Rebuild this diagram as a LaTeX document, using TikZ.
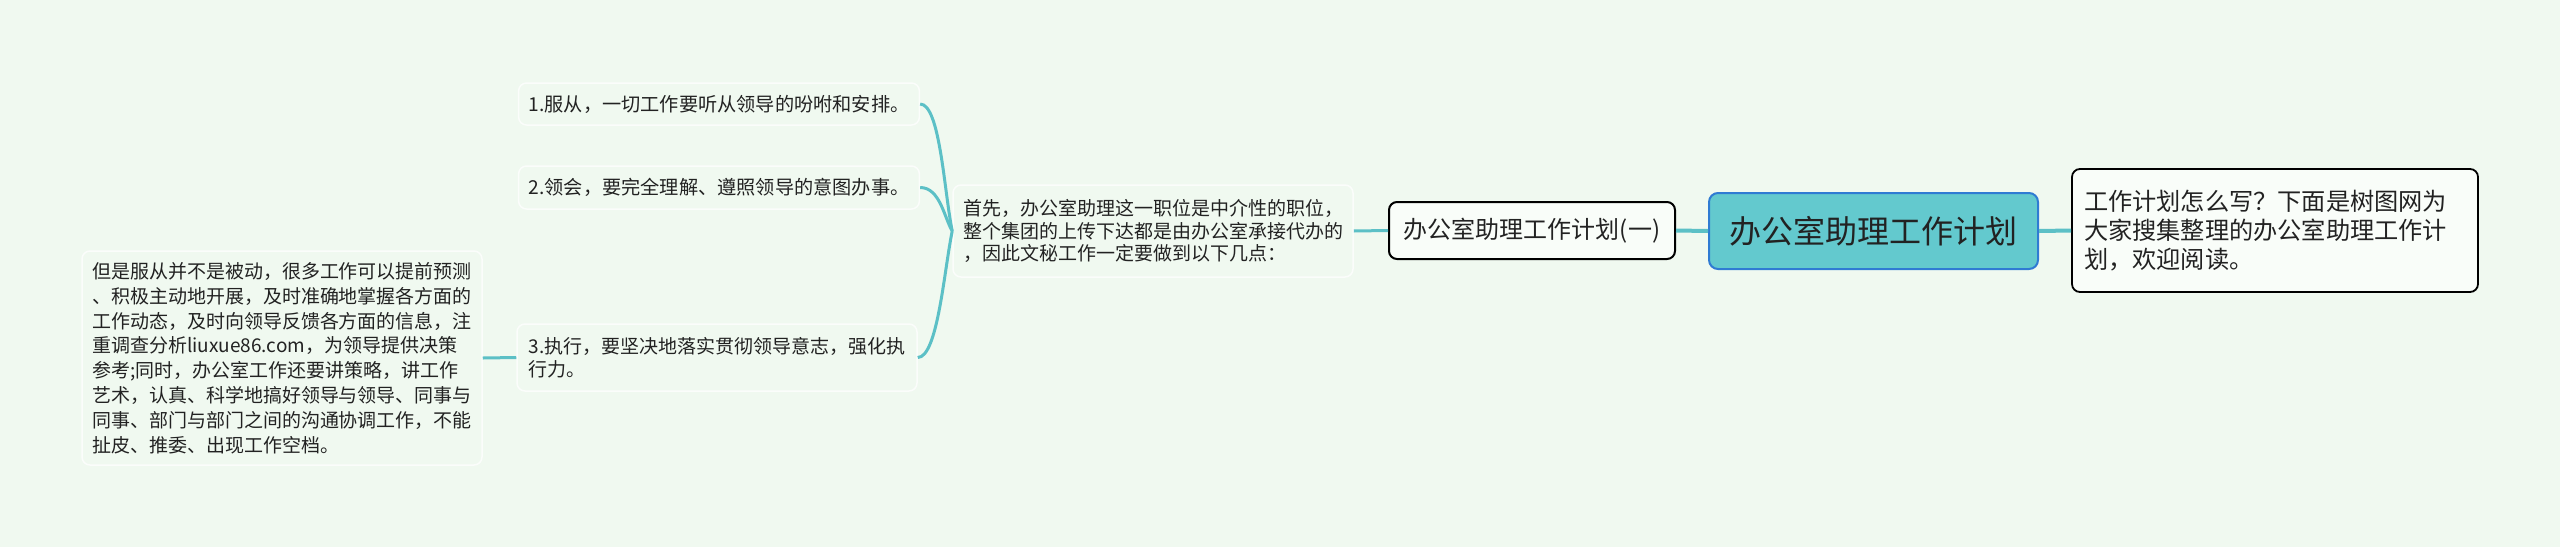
\documentclass[tikz,border=0pt]{standalone}
\usepackage{fontspec}
\setmainfont{Noto Sans CJK SC}
\definecolor{bgc}{HTML}{F0F9F0}
\definecolor{linec}{HTML}{5CC0C6}
\definecolor{mainfill}{HTML}{63C9CE}
\definecolor{mainborder}{HTML}{2F7BD3}
\definecolor{txt}{HTML}{222222}
\definecolor{leafborder}{HTML}{FBFDFB}
\tikzset{
  leaf/.style={draw=leafborder, line width=1.5pt, fill=bgc, rounded corners=8pt,
    inner xsep=10pt, inner ysep=0pt, align=left, text=txt,
    font=\fontsize{19.2}{24.8}\selectfont},
  topic/.style={draw=black, line width=2pt, fill=white!60!bgc, rounded corners=8pt,
    inner xsep=10pt, inner ysep=0pt, align=left, text=txt},
  central/.style={draw=mainborder, line width=2pt, fill=mainfill, rounded corners=9pt,
    inner sep=0pt, text=txt, font=\fontsize{32}{38}\selectfont},
  conn/.style={draw=linec, line width=4pt},
  connthin/.style={draw=linec, line width=3pt},
}
\begin{document}
\begin{tikzpicture}[x=1pt,y=1pt]
\fill[bgc] (0,0) rectangle (2560,-547);
\useasboundingbox (0,0) rectangle (2560,-547);

\node[central, minimum width=329pt, minimum height=76pt] (M) at (1873.5,-231) {办公室助理工作计划};
\node[topic, minimum width=286pt, minimum height=57pt, font=\fontsize{24}{29}\selectfont] (T) at (1532,-230.5) {办公室助理工作计划(一)};
\node[topic, line width=1.8pt, inner xsep=12pt, text width=382pt, minimum height=123pt, font=\fontsize{24.2}{29.3}\selectfont] (R) at (2275,-230.5) {工作计划怎么写？下面是树图网为\\大家搜集整理的办公室助理工作计\\划，欢迎阅读。};
\node[leaf, minimum width=400pt, minimum height=92pt, font=\fontsize{19}{22.6}\selectfont] (S) at (1153,-231) {首先，办公室助理这一职位是中介性的职位，\\整个集团的上传下达都是由办公室承接代办的\\，因此文秘工作一定要做到以下几点：};
\node[leaf, minimum width=396pt, minimum height=42pt] (b1) at (719,-104) {1.服从，一切工作要听从领导的吩咐和安排。};
\node[leaf, minimum width=396pt, minimum height=43pt] (b2) at (719,-187.5) {2.领会，要完全理解、遵照领导的意图办事。};
\node[leaf, minimum width=400pt, minimum height=67pt, font=\fontsize{19}{23.5}\selectfont] (b3) at (717,-357.5) {3.执行，要坚决地落实贯彻领导意志，强化执\\行力。};
\node[leaf, minimum width=400pt, minimum height=214pt, font=\fontsize{19}{24.8}\selectfont] (L) at (282,-358) {但是服从并不是被动，很多工作可以提前预测\\、积极主动地开展，及时准确地掌握各方面的\\工作动态，及时向领导反馈各方面的信息，注\\重调查分析liuxue86.com，为领导提供决策\\参考;同时，办公室工作还要讲策略，讲工作\\艺术，认真、科学地搞好领导与领导、同事与\\同事、部门与部门之间的沟通协调工作，不能\\扯皮、推委、出现工作空档。};

\draw[conn] (M.west) -- (T.east);
\draw[conn] (M.east) -- (R.west);
\draw[connthin] (T.west) -- (S.east);
\draw[connthin] (b1.east) .. controls +(20,0) and +(-8,38) .. (S.west);
\draw[connthin] (b2.east) .. controls +(20,0) and +(-8,13) .. (S.west);
\draw[connthin] (b3.east) .. controls +(20,0) and +(-8,-38) .. (S.west);
\draw[connthin] (L.east) -- (b3.west);
\end{tikzpicture}
\end{document}
